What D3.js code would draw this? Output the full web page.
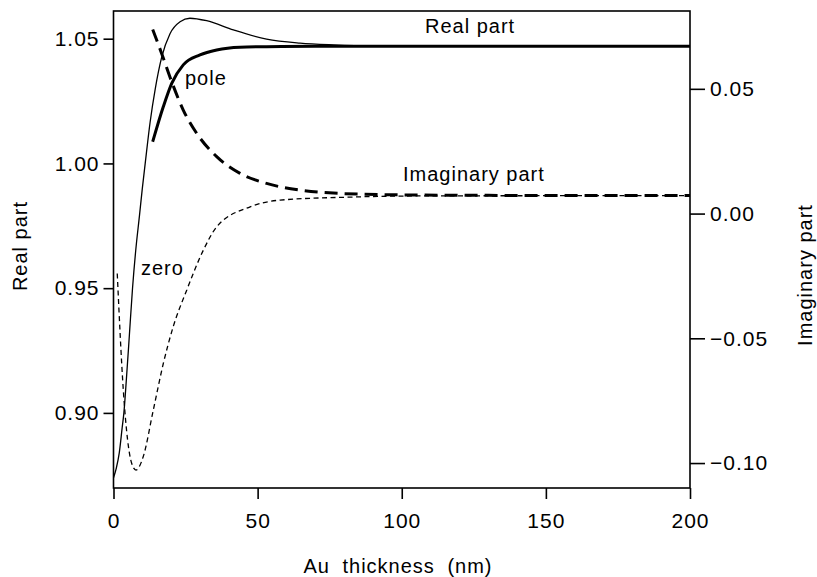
<!DOCTYPE html>
<html>
<head>
<meta charset="utf-8">
<script src="https://cdn.jsdelivr.net/npm/d3@7"></script>
<style>
  body { margin: 0; background: #fff; }
  svg { display: block; }
  text { font-family: "Liberation Sans", Arial, sans-serif; fill: #000; letter-spacing: 1px; }
</style>
</head>
<body>
<div id="chart"></div>
<script>
// Au thickness (nm) and values
const zeroRealX = [0, 1, 2, 3, 3.6, 4.5, 5.5, 6.6, 7.7, 9, 10, 11, 12.7, 14.5, 16.7, 19.6, 23.1, 26.5, 32.3, 41.6, 53.1, 64.7, 76.3, 90, 120, 200];
const zeroRealY = [0.874, 0.878, 0.884, 0.894, 0.900, 0.914, 0.931, 0.950, 0.965, 0.979, 0.990, 1.000, 1.0165, 1.030, 1.0425, 1.052, 1.0568, 1.0582, 1.0572, 1.0535, 1.0498, 1.0482, 1.0475, 1.0471, 1.0470, 1.0470];

const poleRealX = [13.6, 17.3, 20.2, 24.2, 30, 35.8, 43.9, 53.1, 70, 100, 200];
const poleRealY = [1.0087, 1.0228, 1.0321, 1.0395, 1.0435, 1.0455, 1.0466, 1.0468, 1.0470, 1.0470, 1.0470];

const poleImagX = [13.6, 16.7, 20.2, 24.2, 28.9, 35.8, 43.9, 53.1, 64.7, 76.3, 99.4, 130, 200];
const poleImagY = [0.0738, 0.0642, 0.0528, 0.0415, 0.0321, 0.0228, 0.0161, 0.0121, 0.0094, 0.0082, 0.0075, 0.0073, 0.0072];

const zeroImagX = [1.3, 3.4, 6.3, 7.8, 10.3, 13.8, 17.3, 20.7, 25.4, 31.2, 35.8, 47.4, 57.8, 82, 110, 200];
const zeroImagY = [-0.0240, -0.0707, -0.1001, -0.1028, -0.0975, -0.0788, -0.0600, -0.0454, -0.0307, -0.0146, -0.0053, 0.0027, 0.0054, 0.0066, 0.0071, 0.0072];

const xTicks = [0, 50, 100, 150, 200];
const realTicks = [0.90, 0.95, 1.00, 1.05];
const imagTicks = [-0.10, -0.05, 0.00, 0.05];

const width = 817, height = 577;
const plotLeft = 113.5, plotRight = 690, plotTop = 11, plotBottom = 488;

const svg = d3.select("#chart").append("svg")
  .attr("width", width)
  .attr("height", height);

const x = d3.scaleLinear().domain([0, 200]).range([plotLeft, plotRight]);
const yReal = d3.scaleLinear().domain([0.8699, 1.0611]).range([plotBottom, plotTop]);
const yImag = d3.scaleLinear().domain([-0.1100, 0.0812]).range([plotBottom, plotTop]);

// Axes
const fmt = d3.format(".2f");

const gLeft = svg.append("g")
  .attr("transform", `translate(${plotLeft},0)`)
  .call(d3.axisLeft(yReal).tickValues(realTicks).tickFormat(fmt).tickSize(10).tickPadding(4));

const gRight = svg.append("g")
  .attr("transform", `translate(${plotRight},0)`)
  .call(d3.axisRight(yImag).tickValues(imagTicks).tickFormat(fmt).tickSize(15).tickPadding(5));

const gBottom = svg.append("g")
  .attr("transform", `translate(0,${plotBottom})`)
  .call(d3.axisBottom(x).tickValues(xTicks).tickSize(11).tickPadding(14));

[gLeft, gRight, gBottom].forEach(g => {
  g.select(".domain").remove();
  g.selectAll("line").attr("stroke", "#000").attr("stroke-width", 1.6);
  g.selectAll("text").attr("font-size", 21).attr("font-family", null);
});

// Frame
svg.append("rect")
  .attr("x", plotLeft)
  .attr("y", plotTop)
  .attr("width", plotRight - plotLeft)
  .attr("height", plotBottom - plotTop)
  .attr("fill", "none")
  .attr("stroke", "#000")
  .attr("stroke-width", 1.6);

// Curves
const series = [
  { xs: zeroRealX, ys: zeroRealY, scale: yReal, width: 1.3, dash: null },
  { xs: poleRealX, ys: poleRealY, scale: yReal, width: 3, dash: null },
  { xs: poleImagX, ys: poleImagY, scale: yImag, width: 3, dash: "13,7" },
  { xs: zeroImagX, ys: zeroImagY, scale: yImag, width: 1.3, dash: "5,3.5" }
];

series.forEach(s => {
  const pts = s.xs.map((d, i) => [d, s.ys[i]]);
  const line = d3.line()
    .x(d => x(d[0]))
    .y(d => s.scale(d[1]))
    .curve(d3.curveMonotoneX);
  svg.append("path")
    .datum(pts)
    .attr("d", line)
    .attr("fill", "none")
    .attr("stroke", "#000")
    .attr("stroke-width", s.width)
    .attr("stroke-dasharray", s.dash);
});

// Annotations
const notes = [
  { text: "Real part", x: 425, y: 33 },
  { text: "Imaginary part", x: 403, y: 181 },
  { text: "pole", x: 185, y: 85 },
  { text: "zero", x: 141, y: 275 }
];

svg.append("g")
  .selectAll("text")
  .data(notes)
  .join("text")
  .attr("x", d => d.x)
  .attr("y", d => d.y)
  .attr("font-size", 20)
  .text(d => d.text);

// Axis titles
svg.append("text")
  .attr("transform", "translate(27,246) rotate(-90)")
  .attr("text-anchor", "middle")
  .attr("font-size", 20)
  .text("Real part");

svg.append("text")
  .attr("transform", "translate(812,275) rotate(-90)")
  .attr("text-anchor", "middle")
  .attr("font-size", 20)
  .text("Imaginary part");

svg.append("text")
  .attr("x", 398)
  .attr("y", 573)
  .attr("text-anchor", "middle")
  .attr("font-size", 20)
  .attr("word-spacing", 6)
  .text("Au thickness (nm)");
</script>
</body>
</html>
